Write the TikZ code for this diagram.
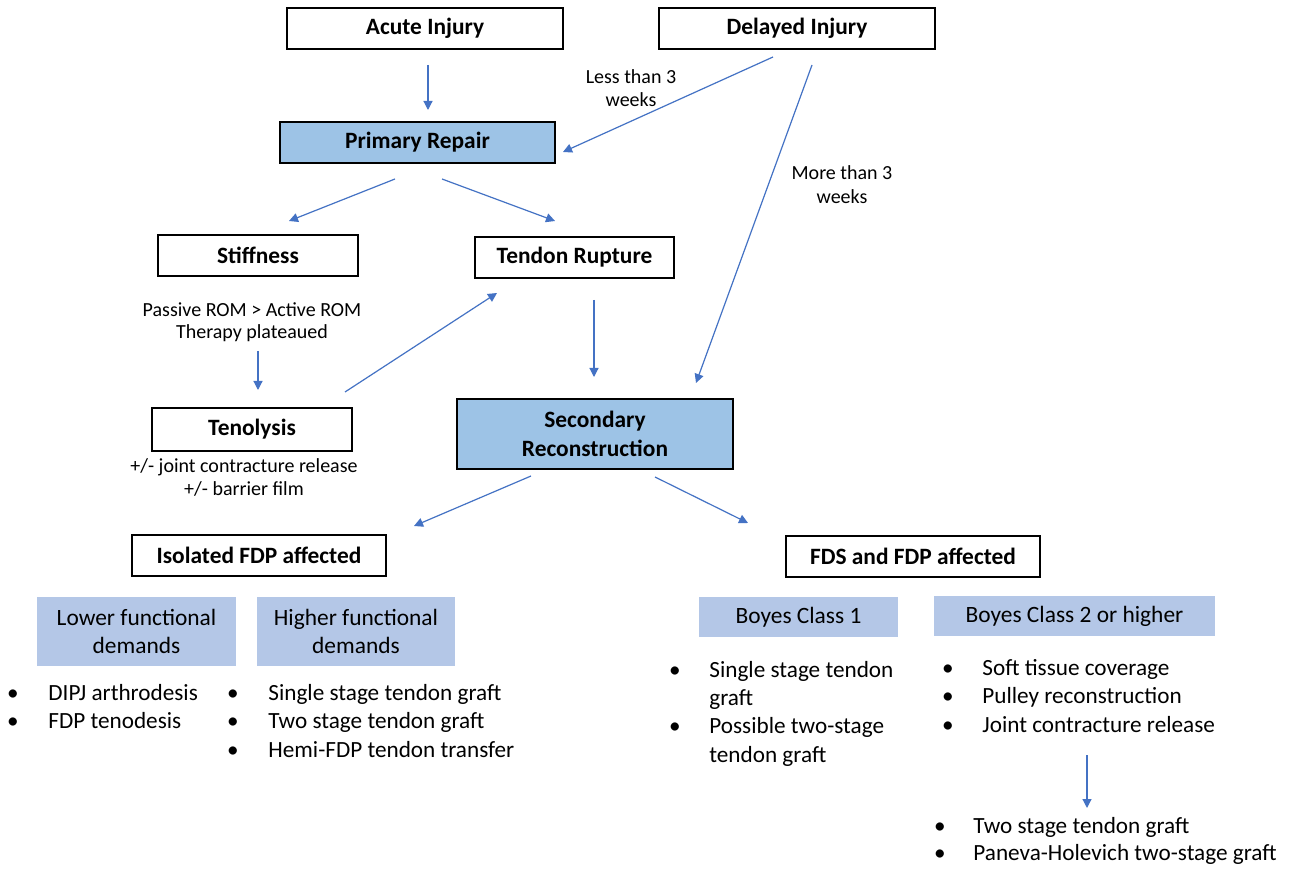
\documentclass[tikz,border=0pt]{standalone}
\usepackage{fontspec}
\setmainfont{Carlito}
\usetikzlibrary{arrows.meta}
\definecolor{pblue}{HTML}{9DC3E6}
\definecolor{lblue}{HTML}{B4C7E7}
\definecolor{ablue}{HTML}{4472C4}
\tikzset{
 wbox/.style={draw=black, line width=0.8pt, fill=white, inner sep=0pt, font=\bfseries\fontsize{11.7}{14.5}\selectfont, align=center},
 bbox/.style={wbox, fill=pblue},
 lbox/.style={fill=lblue, inner sep=0pt, font=\fontsize{11.7}{14}\selectfont, align=center},
 lab/.style={font=\fontsize{10}{11.5}\selectfont, align=center, inner sep=0pt},
 itm/.style={font=\fontsize{11.6}{14}\selectfont, anchor=west, inner sep=0pt, text height=8pt, text depth=2.5pt},
 bul/.style={font=\fontsize{11.6}{14}\selectfont, inner sep=0pt},
 arr/.style={draw=ablue, line width=0.6pt, -{Triangle[length=4.5pt,width=4.5pt]}},
}
\begin{document}
\begin{tikzpicture}[x=0.5pt, y=-0.5pt]
\useasboundingbox (0,0) rectangle (1297,871);
\fill[white] (0,0) rectangle (1297,871);
% boxes
\node[wbox, minimum width=138pt, minimum height=20.5pt] (acute) at (425,28.5) {Acute Injury};
\node[wbox, minimum width=138pt, minimum height=20.5pt] (delayed) at (797,28.5) {Delayed Injury};
\node[bbox, minimum width=137.5pt, minimum height=20.5pt] (primary) at (417.5,142.5) {Primary Repair};
\node[wbox, minimum width=100pt, minimum height=20.5pt] (stiff) at (258,255.5) {Stiffness};
\node[wbox, minimum width=99.5pt, minimum height=20.5pt] (rupture) at (574.5,257.5) {Tendon Rupture};
\node[wbox, minimum width=100pt, minimum height=21.5pt] (teno) at (252,429.5) {Tenolysis};
\node[bbox, minimum width=138pt, minimum height=35pt] (second) at (595,434) {Secondary\\Reconstruction};
\node[wbox, minimum width=127pt, minimum height=20.5pt] (isol) at (259,555.5) {Isolated FDP affected};
\node[wbox, minimum width=127pt, minimum height=20.5pt] (fds) at (913,556.5) {FDS and FDP affected};
\node[lbox, minimum width=99.5pt, minimum height=34.5pt] (lower) at (136.5,631.5) {Lower functional\\demands};
\node[lbox, minimum width=99pt, minimum height=34.5pt] (higher) at (356,631.5) {Higher functional\\demands};
\node[lbox, minimum width=99.5pt, minimum height=20pt] (boyes1) at (798.5,617) {Boyes Class 1};
\node[lbox, minimum width=140.5pt, minimum height=20pt] (boyes2) at (1074.5,616) {Boyes Class 2 or higher};
% labels
\node[lab] (lessl) at (631,88.5) {Less than 3\\weeks};
\node[lab, font=\fontsize{10}{12}\selectfont] (morel) at (842,185) {More than 3\\weeks};
\node[lab, font=\fontsize{10}{11}\selectfont] (romt) at (252,322) {Passive ROM > Active ROM\\Therapy plateaued};
\node[lab] (tenot) at (244,477.5) {+/- joint contracture release\\+/- barrier film};
% bullet lists
\node[bul] (b1) at (13,695) {\textbullet};
\node[itm] (t1) at (48,695) {DIPJ arthrodesis};
\node[bul] (b2) at (13,723) {\textbullet};
\node[itm] (t2) at (48,723) {FDP tenodesis};
\node[bul] (b3) at (233,695) {\textbullet};
\node[itm] (t3) at (268,695) {Single stage tendon graft};
\node[bul] (b4) at (233,723) {\textbullet};
\node[itm] (t4) at (268,723) {Two stage tendon graft};
\node[bul] (b5) at (233,752) {\textbullet};
\node[itm] (t5) at (268,752) {Hemi-FDP tendon transfer};
\node[bul] (b6) at (675,672) {\textbullet};
\node[itm] (t6) at (709,672) {Single stage tendon};
\node[itm] (t6b) at (709,700) {graft};
\node[bul] (b7) at (675,728) {\textbullet};
\node[itm] (t7) at (709,728) {Possible two-stage};
\node[itm] (t7b) at (709,757) {tendon graft};
\node[bul] (b8) at (948,670) {\textbullet};
\node[itm] (t8) at (982,670) {Soft tissue coverage};
\node[bul] (b9) at (948,698) {\textbullet};
\node[itm] (t9) at (982,698) {Pulley reconstruction};
\node[bul] (b10) at (948,727) {\textbullet};
\node[itm] (t10) at (982,727) {Joint contracture release};
\node[bul] (b11) at (940,828) {\textbullet};
\node[itm] (t11) at (973,828) {Two stage tendon graft};
\node[bul] (b12) at (940,855) {\textbullet};
\node[itm] (t12) at (973,855) {Paneva-Holevich two-stage graft};
% arrow end points
\coordinate (a1s) at (428,65);   \coordinate (a1e) at (428,110);
\coordinate (a2s) at (773,57);   \coordinate (a2e) at (563,152);
\coordinate (a3s) at (812,65);   \coordinate (a3e) at (696,383);
\coordinate (a4s) at (395,179);  \coordinate (a4e) at (289,221);
\coordinate (a5s) at (442,179);  \coordinate (a5e) at (555,221);
\coordinate (a6s) at (258,351);  \coordinate (a6e) at (258,390);
\coordinate (a7s) at (345,392);  \coordinate (a7e) at (497,293);
\coordinate (a8s) at (594,300);  \coordinate (a8e) at (594,377);
\coordinate (a9s) at (531,476);  \coordinate (a9e) at (414,526);
\coordinate (a10s) at (655,477); \coordinate (a10e) at (748,523);
\coordinate (a11s) at (1087,755); \coordinate (a11e) at (1087,808);
\draw[arr] (a1s) -- (a1e);
\draw[arr] (a2s) -- (a2e);
\draw[arr] (a3s) -- (a3e);
\draw[arr] (a4s) -- (a4e);
\draw[arr] (a5s) -- (a5e);
\draw[arr] (a6s) -- (a6e);
\draw[arr] (a7s) -- (a7e);
\draw[arr] (a8s) -- (a8e);
\draw[arr] (a9s) -- (a9e);
\draw[arr] (a10s) -- (a10e);
\draw[arr] (a11s) -- (a11e);
\end{tikzpicture}
\end{document}
